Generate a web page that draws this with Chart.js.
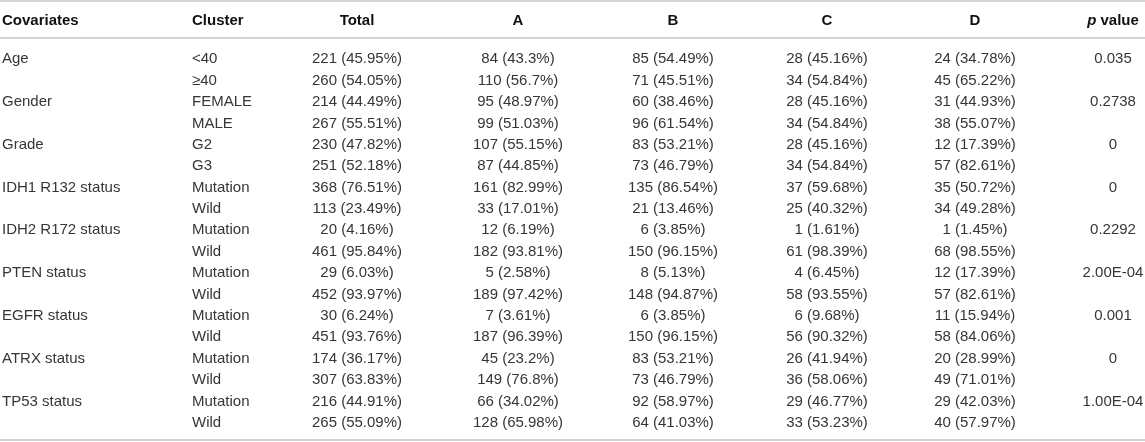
<!DOCTYPE html>
<html lang="en">
<head>
  <meta charset="UTF-8">
  <title>Cluster covariates table</title>
  <script src="https://cdn.jsdelivr.net/npm/chart.js"></script>
  <style>
    body {
      margin: 0;
      padding: 0;
      background: #ffffff;
    }
    .wrap {
      position: relative;
      width: 1145px;
      height: 442px;
    }
  </style>
</head>
<body>

<div class="wrap">
  <canvas id="tableChart"></canvas>
</div>

<script>
  const headers = ['Covariates', 'Cluster', 'Total', 'A', 'B', 'C', 'D', 'p value'];
  const covariates = ['Age', 'Gender', 'Grade', 'IDH1 R132 status', 'IDH2 R172 status',
    'PTEN status', 'EGFR status', 'ATRX status', 'TP53 status'];
  const clusters = ['<40', '≥40', 'FEMALE', 'MALE', 'G2', 'G3', 'Mutation', 'Wild',
    'Mutation', 'Wild', 'Mutation', 'Wild', 'Mutation', 'Wild', 'Mutation', 'Wild', 'Mutation', 'Wild'];

  const totalN = [221, 260, 214, 267, 230, 251, 368, 113, 20, 461, 29, 452, 30, 451, 174, 307, 216, 265];
  const totalPct = [45.95, 54.05, 44.49, 55.51, 47.82, 52.18, 76.51, 23.49, 4.16, 95.84, 6.03, 93.97, 6.24, 93.76, 36.17, 63.83, 44.91, 55.09];
  const aN = [84, 110, 95, 99, 107, 87, 161, 33, 12, 182, 5, 189, 7, 187, 45, 149, 66, 128];
  const aPct = [43.3, 56.7, 48.97, 51.03, 55.15, 44.85, 82.99, 17.01, 6.19, 93.81, 2.58, 97.42, 3.61, 96.39, 23.2, 76.8, 34.02, 65.98];
  const bN = [85, 71, 60, 96, 83, 73, 135, 21, 6, 150, 8, 148, 6, 150, 83, 73, 92, 64];
  const bPct = [54.49, 45.51, 38.46, 61.54, 53.21, 46.79, 86.54, 13.46, 3.85, 96.15, 5.13, 94.87, 3.85, 96.15, 53.21, 46.79, 58.97, 41.03];
  const cN = [28, 34, 28, 34, 28, 34, 37, 25, 1, 61, 4, 58, 6, 56, 26, 36, 29, 33];
  const cPct = [45.16, 54.84, 45.16, 54.84, 45.16, 54.84, 59.68, 40.32, 1.61, 98.39, 6.45, 93.55, 9.68, 90.32, 41.94, 58.06, 46.77, 53.23];
  const dN = [24, 45, 31, 38, 12, 57, 35, 34, 1, 68, 12, 57, 11, 58, 20, 49, 29, 40];
  const dPct = [34.78, 65.22, 44.93, 55.07, 17.39, 82.61, 50.72, 49.28, 1.45, 98.55, 17.39, 82.61, 15.94, 84.06, 28.99, 71.01, 42.03, 57.97];
  const pValues = ['0.035', '0.2738', '0', '0', '0.2292', '2.00E-04', '0.001', '0', '1.00E-04'];

  // === Layout (column anchors on the x scale, text alignment) ===
  const colPos = [2, 192, 357, 518, 673, 827, 975, 1113];
  const colAlign = ['left', 'left', 'center', 'center', 'center', 'center', 'center', 'center'];
  const bodyFont = '15px "Liberation Sans", Arial, sans-serif';
  const headFont = 'bold 15px "Liberation Sans", Arial, sans-serif';
  const bodyColor = '#363636';
  const headColor = '#111111';
  const ruleColor = '#c4c4c4';

  const fmt = (n, p) => n + ' (' + p + '%)';
  const rowCount = clusters.length;

  // one text column per dataset, one cell per row
  const columnText = [
    clusters.map((_, i) => (i % 2 === 0 ? covariates[i / 2] : '')),
    clusters,
    totalN.map((n, i) => fmt(n, totalPct[i])),
    aN.map((n, i) => fmt(n, aPct[i])),
    bN.map((n, i) => fmt(n, bPct[i])),
    cN.map((n, i) => fmt(n, cPct[i])),
    dN.map((n, i) => fmt(n, dPct[i])),
    clusters.map((_, i) => (i % 2 === 0 ? pValues[i / 2] : ''))
  ];

  const datasets = columnText.map((col, c) => ({
    label: headers[c],
    data: col.map((t, r) => ({ x: colPos[c], y: r, text: t })),
    pointRadius: 0,
    showLine: false
  }));

  // draws header, rules and the cell texts at the dataset element positions
  const tablePlugin = {
    id: 'tableText',
    afterDatasetsDraw(chart) {
      const ctx = chart.ctx;
      const xs = chart.scales.x;
      const area = chart.chartArea;
      const w = chart.width;

      ctx.save();
      // rules
      ctx.strokeStyle = ruleColor;
      ctx.lineWidth = 1.5;
      [1, 38, 440].forEach(y => {
        ctx.beginPath();
        ctx.moveTo(0, y);
        ctx.lineTo(w, y);
        ctx.stroke();
      });

      // header row
      ctx.textBaseline = 'middle';
      ctx.fillStyle = headColor;
      const headY = area.top - 28;
      headers.forEach((h, c) => {
        const x = xs.getPixelForValue(colPos[c]);
        if (h === 'p value') {
          ctx.font = 'italic ' + headFont;
          const pw = ctx.measureText('p').width;
          ctx.font = headFont;
          const vw = ctx.measureText(' value').width;
          const x0 = x - (pw + vw) / 2;
          ctx.textAlign = 'left';
          ctx.font = 'italic ' + headFont;
          ctx.fillText('p', x0, headY);
          ctx.font = headFont;
          ctx.fillText(' value', x0 + pw, headY);
        } else {
          ctx.font = headFont;
          ctx.textAlign = colAlign[c];
          ctx.fillText(h, x, headY);
        }
      });

      // body cells
      ctx.font = bodyFont;
      ctx.fillStyle = bodyColor;
      chart.data.datasets.forEach((ds, c) => {
        const meta = chart.getDatasetMeta(c);
        ctx.textAlign = colAlign[c];
        meta.data.forEach((el, r) => {
          const t = ds.data[r].text;
          if (t) ctx.fillText(t, el.x, el.y);
        });
      });
      ctx.restore();
    }
  };

  const chart = new Chart(document.getElementById('tableChart'), {
    type: 'scatter',
    data: { datasets: datasets },
    options: {
      responsive: true,
      maintainAspectRatio: false,
      animation: false,
      layout: { padding: { top: 48.5, bottom: 8.5, left: 0, right: 0 } },
      plugins: {
        legend: { display: false },
        tooltip: { enabled: false }
      },
      scales: {
        x: { type: 'linear', min: 0, max: 1145, display: false },
        y: { type: 'linear', min: -0.5, max: rowCount - 0.5, reverse: true, display: false }
      }
    },
    plugins: [tablePlugin]
  });
</script>

</body>
</html>
